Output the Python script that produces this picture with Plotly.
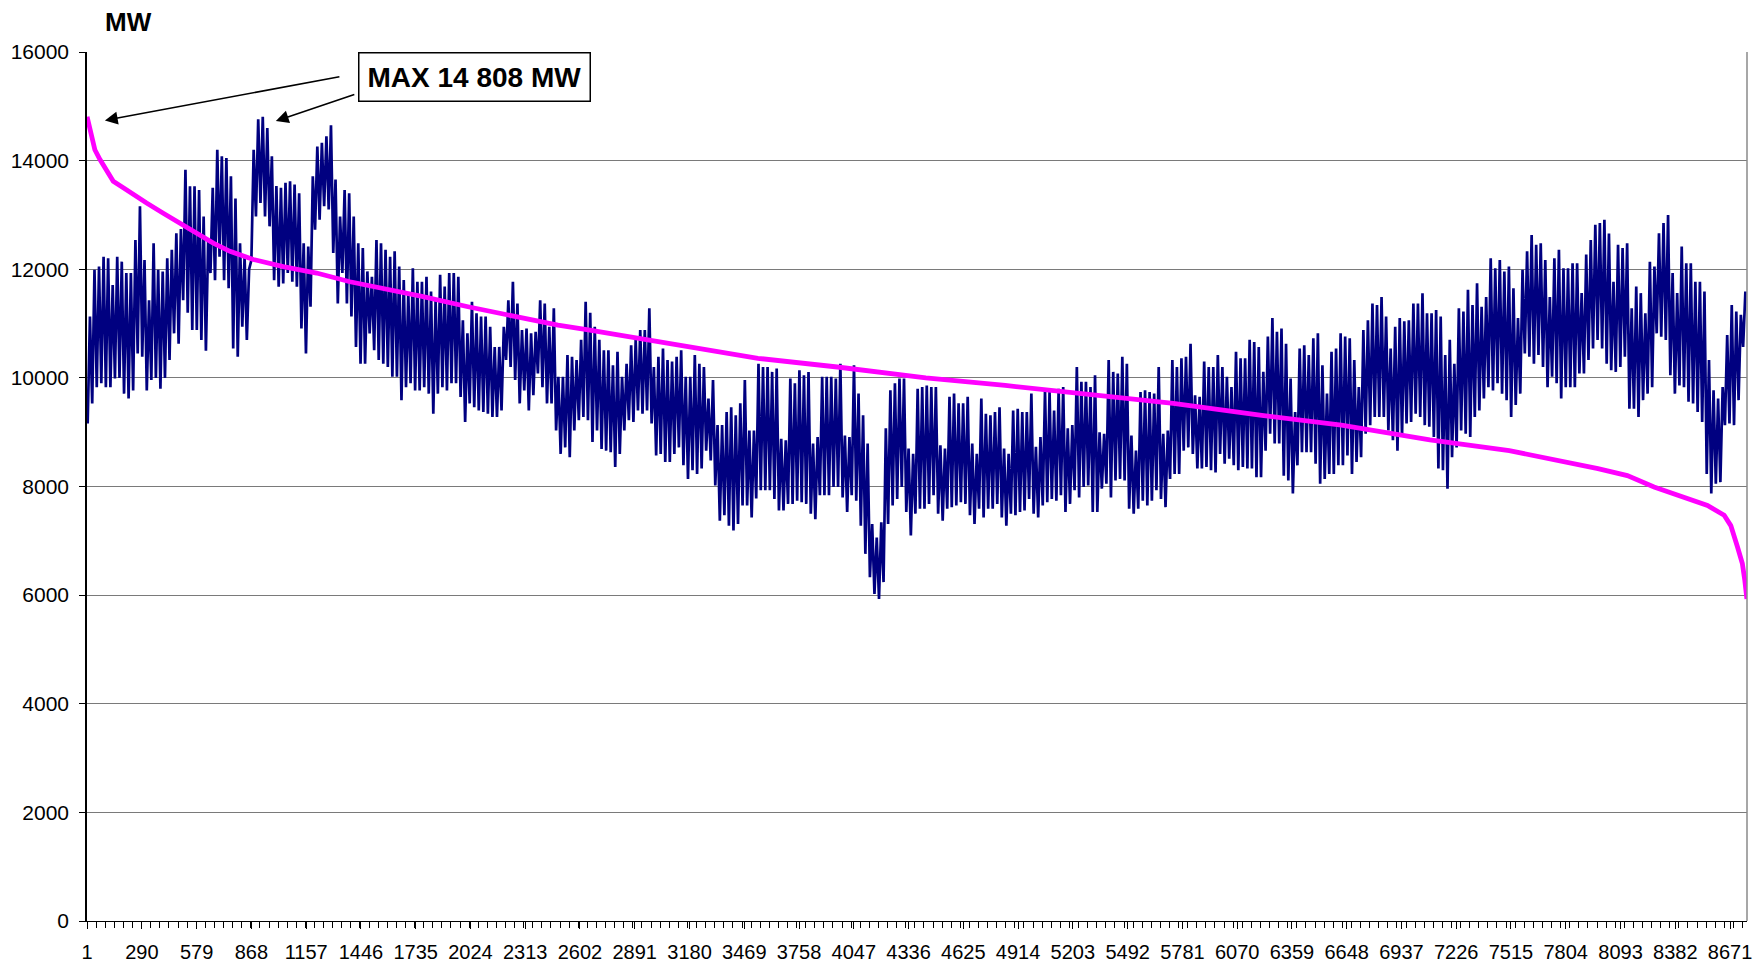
import plotly.graph_objects as go

# ---- Data (MW) ----
# Daily peak and trough of the hourly load (day 0 .. day 364)
daily_peaks = [
    # days 0-36
    11130, 11990, 12050, 12230, 12200, 11710, 12230, 12140, 11930, 11930,
    12540, 13160, 12170, 11430, 12480, 11990, 11960, 12200, 12360, 12660,
    12740, 13830, 13530, 13530, 13460, 12970, 12540, 13500, 14200, 14080,
    14050, 13710, 13300, 12480, 12230, 12000, 14200,
    # days 37-72
    14760, 14808, 14600, 14080, 13530, 13500, 13590, 13620, 13560, 13400,
    12480, 12420, 13710, 14260, 14330, 14450, 14650, 13650, 12970, 13460,
    13400, 12970, 12480, 12390, 11960, 11860, 12540, 12480, 12360, 12230,
    12330, 12050, 11800, 11560, 12020, 11770,
    # days 73-110
    11770, 11860, 11590, 11430, 11900, 11680, 11930, 11930, 11860, 11060,
    10820, 11400, 11190, 11130, 11130, 10940, 10570, 10570, 10940, 11430,
    11770, 11370, 10880, 10910, 10820, 10850, 11430, 11370, 10940, 11280,
    10020, 10020, 10420, 10390, 10330, 10700, 11400, 11200,
    # days 111-147
    10940, 10700, 10510, 10510, 10230, 10480, 10020, 10260, 10600, 10700,
    10880, 10880, 11280, 10200, 10390, 10540, 10330, 10300, 10390, 10510,
    10020, 10020, 10420, 10260, 10200, 9620, 9960, 9130, 9130, 9370,
    9460, 9310, 9530, 9960, 9030, 9030, 10260,
    # days 148-183
    10200, 10200, 10110, 10170, 8880, 8850, 9990, 9900, 10140, 10050,
    10110, 8790, 8910, 10020, 10020, 10020, 9990, 10260, 8940, 8910,
    10230, 9710, 9310, 8790, 7310, 7060, 7340, 9070, 9770, 9900,
    9990, 9990, 8700, 8600, 9800, 9830,
    # days 184-220
    9860, 9830, 9830, 8760, 8700, 9650, 9710, 9530, 9530, 9650,
    8790, 8600, 9620, 9340, 9310, 9370, 9460, 8700, 8600, 9400,
    9430, 9370, 9370, 9710, 8730, 8910, 9770, 9740, 9400, 9800,
    9830, 9070, 9130, 10200, 9930, 9930, 9830,
    # days 221-257
    10050, 9000, 8970, 10330, 10110, 10080, 10390, 10260, 8940, 8660,
    9740, 9770, 9740, 9710, 10200, 8970, 9030, 10330, 10200, 10360,
    10390, 10630, 9680, 9650, 10300, 10200, 10200, 10420, 10200, 10020,
    9830, 10480, 10360, 10360, 10700, 10660, 10570,
    # days 258-294
    10110, 10760, 11100, 10850, 10910, 10630, 9990, 9370, 10540, 10600,
    10420, 10730, 10820, 10230, 9710, 10480, 10540, 10820, 10760, 10730,
    10330, 9830, 10880, 11060, 11370, 11340, 11490, 11130, 10540, 10940,
    11100, 11040, 11060, 11370, 11370, 11560, 11190,
    # days 295-331
    11190, 11250, 11130, 10420, 10700, 10260, 11280, 11220, 11620, 11340,
    11740, 11310, 11490, 12200, 12020, 12170, 11960, 12050, 11650, 11100,
    11990, 12330, 12630, 12450, 12480, 12170, 11490, 12200, 12360, 12020,
    12020, 12110, 12110, 11560, 12270, 12540, 12820,
    # days 332-364
    12850, 12910, 12660, 11770, 12450, 12390, 12480, 11280, 11680, 11560,
    11190, 12140, 12050, 12660, 12850, 13000, 11930, 11560, 12420, 12110,
    12110, 11770, 11770, 11590, 10330, 9770, 9620, 9830, 10790, 11340,
    11220, 11160, 11590,
]

daily_troughs = [
    # days 0-36
    9160, 9530, 9830, 9900, 9830, 9830, 9990, 10000, 9710, 9620,
    9770, 10450, 10390, 9770, 9960, 10000, 9800, 10000, 10330, 10820,
    10630, 11430, 11200, 10880, 10880, 10700, 10500, 11930, 11800, 12230,
    11800, 11650, 10540, 10390, 10940, 10700, 12170,
    # days 37-72
    12970, 13220, 12970, 12790, 11800, 11680, 11740, 11930, 11770, 11680,
    10910, 10450, 11310, 12730, 12910, 13160, 13100, 12300, 11370, 11930,
    11370, 11130, 10570, 10260, 10260, 10820, 10510, 10330, 10260, 10200,
    10020, 10020, 9590, 9830, 9900, 9770,
    # days 73-110
    9770, 9830, 9710, 9340, 9710, 9830, 9770, 9900, 9900, 9650,
    9190, 9530, 9460, 9400, 9370, 9340, 9280, 9280, 9400, 10330,
    10200, 9960, 9530, 9770, 9400, 9680, 10080, 9830, 9530, 9530,
    9030, 8600, 8720, 8540, 9030, 9220, 9280, 9220,
    # days 111-147
    8820, 9030, 8690, 8660, 8630, 8360, 8600, 9030, 9220, 9190,
    9400, 9340, 9400, 9160, 8570, 8600, 8450, 8450, 8600, 8720,
    8390, 8140, 8300, 8230, 8330, 8660, 8480, 8020, 7370, 7470,
    7280, 7190, 7310, 7650, 7650, 7430, 7780,
    # days 148-183
    7930, 7930, 7930, 7770, 7560, 7560, 7680, 7680, 7740, 7710,
    7680, 7500, 7400, 7840, 7840, 7840, 7990, 7990, 7800, 7530,
    7840, 7740, 7280, 6760, 6330, 6020, 5930, 6240, 7310, 7650,
    7770, 7990, 7530, 7100, 7500, 7590,
    # days 184-220
    7590, 7680, 7840, 7500, 7370, 7590, 7620, 7650, 7710, 7680,
    7470, 7310, 7590, 7430, 7590, 7590, 7680, 7430, 7280, 7500,
    7470, 7530, 7560, 7770, 7500, 7430, 7650, 7710, 7770, 7740,
    7840, 7530, 7680, 7930, 7800, 7990, 8020,
    # days 221-257
    7530, 7530, 7960, 8050, 7800, 8110, 8140, 8110, 7590, 7500,
    7590, 7740, 7650, 7740, 7930, 7770, 7620, 8140, 8230, 8230,
    8660, 8720, 8600, 8330, 8330, 8360, 8300, 8260, 8600, 8420,
    8510, 8390, 8300, 8360, 8330, 8330, 8170,
    # days 258-294
    8170, 8660, 8970, 8790, 8790, 8200, 8110, 7870, 8390, 8630,
    8630, 8630, 8420, 8050, 8140, 8230, 8230, 8390, 8390, 8570,
    8230, 8450, 8540, 8970, 9130, 9280, 9280, 9280, 9030, 8850,
    8660, 8910, 9160, 9190, 9340, 9280, 9130,
    # days 295-331
    9100, 8910, 8330, 8300, 7960, 8540, 8720, 9030, 8970, 8910,
    9280, 9400, 9620, 9830, 9770, 9900, 9710, 9590, 9280, 9500,
    9710, 10450, 10390, 10260, 10420, 10200, 9830, 10020, 9900, 9620,
    9830, 9830, 9830, 10080, 10080, 10330, 10540,
    # days 332-364
    10700, 10540, 10260, 10140, 10110, 10200, 10390, 9430, 9430, 9280,
    9590, 9710, 9830, 10820, 10760, 10700, 10050, 9710, 9860, 9830,
    9560, 9530, 9370, 9190, 8230, 7870, 8050, 8080, 9130, 9160,
    9130, 9590, 10570,
]

# Load duration curve: rank (hour) and value
ldc_hours = [1, 15, 42, 69, 104, 139, 192, 245, 315, 403, 491, 579, 667, 755,
             878, 1036, 1212, 1388, 1564, 1768, 2011, 2275, 2486, 2654, 2918,
             3182, 3541, 3960, 4427, 4846, 5314, 5733, 6200, 6620, 7087, 7506,
             7974, 8129, 8270, 8411, 8552, 8640, 8675, 8710, 8736, 8749, 8760]
ldc_values = [14808, 14570, 14200, 14020, 13800, 13620, 13500, 13370, 13220,
              13030, 12850, 12660, 12480, 12330, 12180, 12050, 11930, 11770,
              11650, 11500, 11310, 11130, 10970, 10880, 10730, 10570, 10360,
              10200, 10000, 9860, 9680, 9530, 9310, 9130, 8860, 8660, 8330,
              8200, 7990, 7830, 7650, 7470, 7280, 6890, 6580, 6270, 5930]

x_tick_labels = ["1", "290", "579", "868", "1157", "1446", "1735", "2024", "2313",
                 "2602", "2891", "3180", "3469", "3758", "4047", "4336", "4625",
                 "4914", "5203", "5492", "5781", "6070", "6359", "6648", "6937",
                 "7226", "7515", "7804", "8093", "8382", "8671"]
y_tick_labels = ["0", "2000", "4000", "6000", "8000", "10000", "12000", "14000", "16000"]

assert len(daily_peaks) == 365 and len(daily_troughs) == 365

# hourly trace: trough in the night, peak in the day, for each day
hx, hy = [], []
for d in range(365):
    hx += [d * 24 + 4, d * 24 + 16]
    hy += [daily_troughs[d], daily_peaks[d]]

FONT = "Liberation Sans, Arial, sans-serif"

fig = go.Figure()
fig.add_trace(go.Scatter(x=hx, y=hy, mode="lines",
                         line=dict(color="#000080", width=2.7),
                         hoverinfo="skip", showlegend=False))
fig.add_trace(go.Scatter(x=ldc_hours, y=ldc_values, mode="lines",
                         line=dict(color="#FF00FF", width=4.8),
                         hoverinfo="skip", showlegend=False))

# page body has an 8px margin: size the figure so it ends at the window edge
fig.update_layout(
    width=1756, height=955,
    margin=dict(l=79, r=17, t=44, b=42),
    paper_bgcolor="white", plot_bgcolor="white",
    font=dict(family=FONT, color="black"),
    showlegend=False,
    xaxis=dict(
        range=[0.5, 8760.5],
        automargin=False,
        tickmode="array",
        tickvals=[int(t) for t in x_tick_labels],
        ticktext=x_tick_labels,
        tickfont=dict(size=20, family=FONT),
        ticks="outside", ticklen=7, tickcolor="black",
        ticklabelstandoff=6,
        minor=dict(ticks="outside", ticklen=6, tickcolor="black",
                   tickmode="linear", tick0=1, dtick=48),
        showline=True, linecolor="black", linewidth=1,
        showgrid=False, zeroline=False,
    ),
    yaxis=dict(
        range=[0, 16000],
        automargin=False,
        tickmode="array",
        tickvals=[int(t) for t in y_tick_labels],
        ticktext=y_tick_labels,
        tickfont=dict(size=21, family=FONT),
        ticks="outside", ticklen=6, tickcolor="black",
        ticklabelstandoff=6,
        showline=True, linecolor="black", linewidth=1.5,
        showgrid=True, gridcolor="#7a7a7a", gridwidth=1,
        zeroline=False,
    ),
    shapes=[
        dict(type="line", xref="paper", yref="paper", x0=1, x1=1, y0=0, y1=1,
             line=dict(color="#8a8a8a", width=1.5)),
    ],
    annotations=[
        dict(text="<b>MW</b>", xref="paper", yref="paper", x=0.0247, y=1.035,
             xanchor="center", yanchor="middle", showarrow=False,
             font=dict(size=26, family=FONT, color="black")),
        dict(text="<b>MAX 14 808 MW</b>", xref="paper", yref="paper",
             x=0.2337, y=0.9707, xanchor="center", yanchor="middle",
             showarrow=False, bgcolor="white", bordercolor="black",
             borderwidth=1.5, borderpad=8,
             font=dict(size=28, family=FONT, color="black")),
        dict(text="", x=95, y=14740, xref="x", yref="y",
             ax=236, ay=-44, axref="pixel", ayref="pixel",
             showarrow=True, arrowhead=2, arrowsize=1.6, arrowwidth=1.6,
             arrowcolor="black", standoff=0),
        dict(text="", x=997, y=14730, xref="x", yref="y",
             ax=80, ay=-27, axref="pixel", ayref="pixel",
             showarrow=True, arrowhead=2, arrowsize=1.6, arrowwidth=1.6,
             arrowcolor="black", standoff=0),
    ],
)

fig.write_html("out.html")
